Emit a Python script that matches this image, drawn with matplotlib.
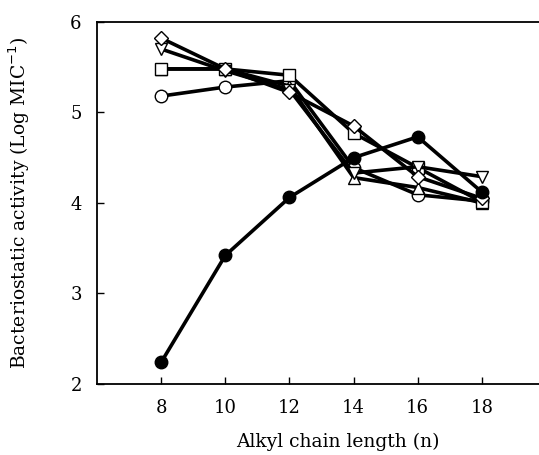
import matplotlib.pyplot as plt

chain = [8, 10, 12, 14, 16, 18]

filled_circle = [2.24, 3.42, 4.06, 4.50, 4.73, 4.12]
open_circle = [5.18, 5.28, 5.35, 4.39, 4.09, 4.02]
square = [5.48, 5.48, 5.41, 4.77, 4.39, 4.01]
diamond = [5.82, 5.48, 5.22, 4.85, 4.29, 4.05]
down_tri = [5.70, 5.46, 5.25, 4.33, 4.40, 4.29]
up_tri = [5.48, 5.48, 5.29, 4.28, 4.17, 4.00]

plt.rcParams['font.family'] = ['DejaVu Serif']

fig = plt.figure(figsize=(5.39, 4.55), dpi=100)
ax = fig.add_axes([0.18, 0.156, 0.833, 0.796])

series = [
    (open_circle, 'o', 'white'),
    (up_tri, '^', 'white'),
    (square, 's', 'white'),
    (down_tri, 'v', 'white'),
    (diamond, 'D', 'white'),
    (filled_circle, 'o', 'black'),
]
for vals, m, fc in series:
    ms = 7 if m == 'D' else 9
    ax.plot(chain, vals, color='black', lw=2.6, marker=m, ms=ms,
            mfc=fc, mec='black', mew=1.0, clip_on=False)

ax.set_xlim(6, 20)
ax.set_ylim(2, 6)
ax.set_xticks(chain)
ax.set_yticks([2, 3, 4, 5, 6])
ax.tick_params(direction='in', length=5, width=1, labelsize=13)
ax.tick_params(axis='x', pad=11)
ax.tick_params(axis='y', pad=11)
ax.spines['right'].set_visible(False)
for s in ['left', 'bottom', 'top']:
    ax.spines[s].set_linewidth(1.3)

ax.set_xlabel('Alkyl chain length (n)', fontsize=13.5)
ax.xaxis.set_label_coords(0.537, -0.135)
ax.set_ylabel('Bacteriostatic activity (Log MIC$^{-1}$)', fontsize=13.5)
ax.yaxis.set_label_coords(-0.145, 0.5)

fig.savefig('out.png', dpi=100)
